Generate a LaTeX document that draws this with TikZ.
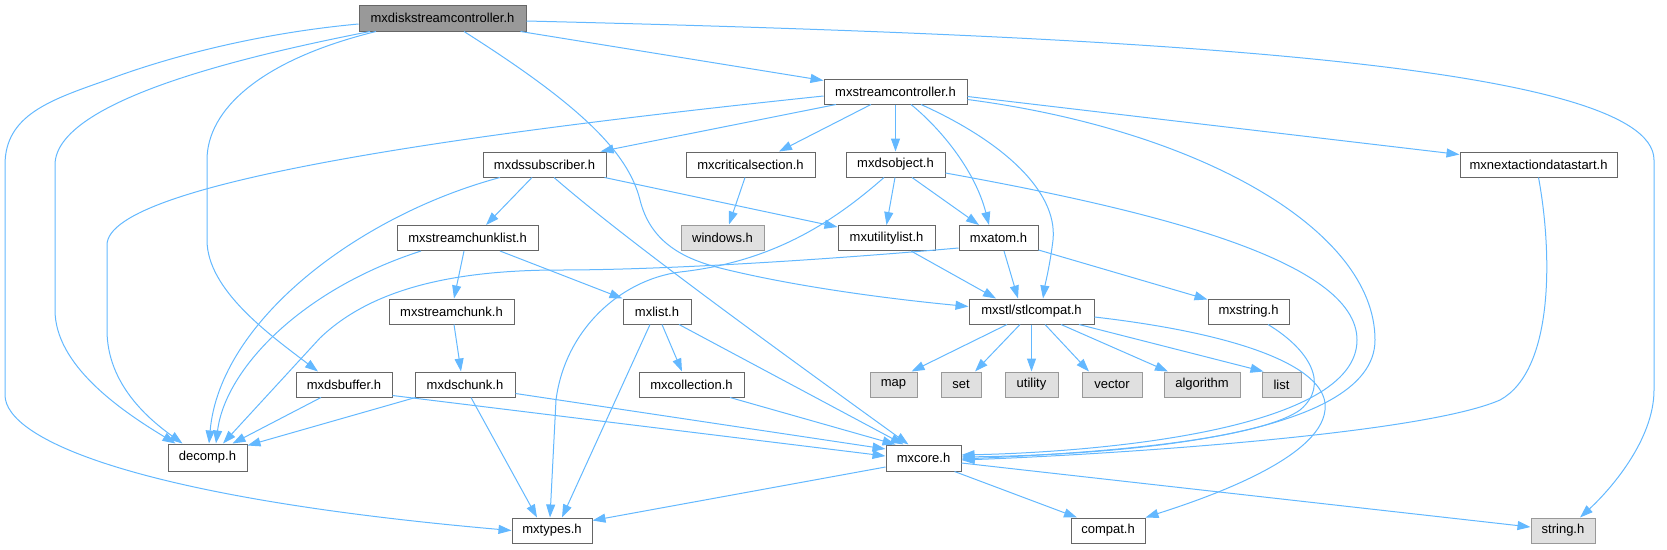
\documentclass[tikz,border=0pt]{standalone}
\usepackage{fontspec}
\setmainfont{Liberation Sans}
\usetikzlibrary{arrows.meta}
\definecolor{eblue}{HTML}{63B8FF}
\definecolor{bord}{HTML}{666666}
\definecolor{gbord}{HTML}{999999}
\definecolor{gfill}{HTML}{E0E0E0}
\definecolor{rfill}{HTML}{999999}
\begin{document}
\begin{tikzpicture}[x=1pt,y=-1pt,
  box/.style={draw=bord, line width=1pt, fill=white, inner sep=0pt, minimum height=25pt, font=\fontsize{13}{15}\selectfont, text=black},
  sysbox/.style={box, draw=gbord, fill=gfill},
  rootbox/.style={box, fill=rfill},
  edge/.style={draw=eblue, line width=1pt, -{Triangle[length=13pt,width=9pt]}}]
\useasboundingbox (0,0) rectangle (1667,549);
% nodes
\node[rootbox, minimum width=167pt, minimum height=26pt] (D) at (442.5,18) {mxdiskstreamcontroller.h};
\node[box, minimum width=143pt] (SC) at (895.5,91.5) {mxstreamcontroller.h};
\node[box, minimum width=123pt] (DS) at (544.5,164.5) {mxdssubscriber.h};
\node[box, minimum width=129pt] (CS) at (750.5,164.5) {mxcriticalsection.h};
\node[box, minimum width=99pt] (DSO) at (895.5,164.5) {mxdsobject.h};
\node[box, minimum width=157pt] (NXT) at (1538.5,164.5) {mxnextactiondatastart.h};
\node[box, minimum width=141pt] (SCL) at (467.5,238) {mxstreamchunklist.h};
\node[sysbox, minimum width=83pt] (WIN) at (722.5,237.5) {windows.h};
\node[box, minimum width=97pt] (UTL) at (886.5,238) {mxutilitylist.h};
\node[box, minimum width=79pt] (ATM) at (998.5,238) {mxatom.h};
\node[box, minimum width=125pt] (SCH) at (451.5,311.5) {mxstreamchunk.h};
\node[box, minimum width=68pt] (LST) at (657,311.5) {mxlist.h};
\node[box, minimum width=125pt] (STL) at (1031.5,311.5) {mxstl/stlcompat.h};
\node[box, minimum width=81pt] (STR) at (1248.5,311.5) {mxstring.h};
\node[box, minimum width=96pt] (BUF) at (344,384.5) {mxdsbuffer.h};
\node[box, minimum width=100pt] (DCH) at (465,384.5) {mxdschunk.h};
\node[box, minimum width=105pt] (COL) at (691.5,384.5) {mxcollection.h};
\node[sysbox, minimum width=47pt] (MAP) at (893.5,384.5) {map};
\node[sysbox, minimum width=40pt] (SET) at (961,384.5) {set};
\node[sysbox, minimum width=53pt] (UTI) at (1031.5,384.5) {utility};
\node[sysbox, minimum width=60pt] (VEC) at (1112,384.5) {vector};
\node[sysbox, minimum width=76pt] (ALG) at (1202,384.5) {algorithm};
\node[sysbox, minimum width=39pt] (LIS) at (1281.5,384.5) {list};
\node[box, minimum width=79pt, minimum height=27pt] (DEC) at (207.5,457.5) {decomp.h};
\node[box, minimum width=75pt, minimum height=26pt] (CORE) at (923.5,458) {mxcore.h};
\node[box, minimum width=80pt] (TYP) at (552,530.5) {mxtypes.h};
\node[box, minimum width=74pt] (CMP) at (1108,530.5) {compat.h};
\node[sysbox, minimum width=64pt] (SH) at (1563,530.5) {string.h};
% edges from mxdiskstreamcontroller.h
\draw[edge] ([yshift=-6pt]D.west) .. controls (250,34) and (160,60) .. (107,80) .. controls (50,100) and (5,115) .. (5,165) -- (5,395) .. controls (5,440) and (140,498) .. (TYP.west);
\draw[edge] ([xshift=-72.5pt]D.south) .. controls (250,55) and (55,100) .. (55,165) -- (55,310) .. controls (55,365) and (120,410) .. ([xshift=-32pt]DEC.north);
\draw[edge] ([xshift=-66.5pt]D.south) .. controls (260,60) and (207,110) .. (207,160) -- (207,240) .. controls (207,290) and (270,335) .. ([xshift=-26pt]BUF.north);
\draw[edge] ([xshift=21.5pt]D.south) .. controls (580,105) and (628,152) .. (640,200) .. controls (650,240) and (680,258) .. (720,268) .. controls (800,288) and (900,300) .. ([yshift=5pt]STL.west);
\draw[edge] ([xshift=-6pt]D.south east) -- ([yshift=-2pt]SC.north west);
\draw[edge] ([yshift=-3pt]D.east) .. controls (1100,35) and (1654,60) .. (1654,160) -- (1654,390) .. controls (1654,440) and (1610,490) .. ([xshift=17pt]SH.north);
% mxstreamcontroller.h
\draw[edge] ([yshift=-4.5pt]SC.west) .. controls (500,130) and (107,180) .. (107,245) -- (107,330) .. controls (107,385) and (150,420) .. ([xshift=-25pt]DEC.north);
\draw[edge] ([xshift=-59.5pt]SC.south) -- ([xshift=-6pt]DS.north east);
\draw[edge] ([xshift=-24.5pt]SC.south) -- ([xshift=28.5pt]CS.north);
\draw[edge] (SC.south) -- (DSO.north);
\draw[edge] ([xshift=15.5pt]SC.south) .. controls (940,128) and (975,170) .. ([xshift=-9.5pt]ATM.north);
\draw[edge] ([xshift=25.5pt]SC.south) .. controls (1000,140) and (1058,190) .. (1053,240) .. controls (1050,265) and (1045,285) .. ([xshift=11.5pt]STL.north);
\draw[edge] ([yshift=-5pt]SC.east) -- ([yshift=-3pt]NXT.north west);
\draw[edge] ([yshift=-8pt]SC.east) .. controls (1200,130) and (1375,230) .. (1375,340) .. controls (1375,440) and (1100,455) .. ([yshift=1pt]CORE.east);
% mxdssubscriber.h
\draw[edge] ([xshift=-44.5pt]DS.south) .. controls (360,215) and (220,320) .. ([xshift=1.5pt]DEC.north);
\draw[edge] ([xshift=-12.5pt]DS.south) -- ([xshift=18.5pt]SCL.north);
\draw[edge] ([xshift=9.5pt]DS.south) .. controls (620,235) and (750,330) .. ([xshift=-15pt]CORE.north);
\draw[edge] ([xshift=-2pt]DS.south east) -- ([yshift=-2pt]UTL.north west);
% mxcriticalsection.h
\draw[edge] ([xshift=-5.5pt]CS.south) -- ([xshift=6.5pt]WIN.north);
% mxdsobject.h
\draw[edge] ([xshift=-11.5pt]DSO.south) .. controls (830,225) and (770,262) .. (680,272) .. controls (620,280) and (565,330) .. (556,400) -- ([xshift=-2pt]TYP.north);
\draw[edge] ([xshift=-0.5pt]DSO.south) -- (UTL.north);
\draw[edge] ([xshift=16.5pt]DSO.south) -- ([xshift=-19.5pt]ATM.north);
\draw[edge] ([yshift=-8.5pt]DSO.east) .. controls (1150,210) and (1357,260) .. (1357,340) .. controls (1357,430) and (1100,452) .. ([yshift=3pt]CORE.east);
% mxstreamchunklist.h
\draw[edge] ([xshift=-46.5pt]SCL.south) .. controls (300,290) and (225,370) .. ([xshift=8.5pt]DEC.north);
\draw[edge] ([xshift=-3.5pt]SCL.south) -- ([xshift=2.5pt]SCH.north);
\draw[edge] ([xshift=32.5pt]SCL.south) -- (LST.north west);
% mxstreamchunk.h
\draw[edge] ([xshift=2.5pt]SCH.south) -- ([xshift=-4pt]DCH.north);
% mxdsbuffer.h
\draw[edge] ([xshift=-23pt]BUF.south) -- ([xshift=25pt]DEC.north);
\draw[edge] ([yshift=-11pt]BUF.east) -- ([yshift=2pt]CORE.west);
% mxdschunk.h
\draw[edge] ([xshift=1pt]DCH.south west) -- ([yshift=-2pt]DEC.north east);
\draw[edge] ([xshift=6pt]DCH.south) -- ([xshift=-15pt]TYP.north);
\draw[edge] ([yshift=-9pt]DCH.east) -- ([yshift=9pt]CORE.west);
% mxlist.h
\draw[edge] ([xshift=-7pt]LST.south) -- ([xshift=10pt]TYP.north);
\draw[edge] ([xshift=5pt]LST.south) -- ([xshift=-9.5pt]COL.north);
\draw[edge] ([xshift=22pt]LST.south) -- ([xshift=-20pt]CORE.north);
% mxcollection.h
\draw[edge] ([xshift=38.5pt]COL.south) -- ([xshift=-28pt]CORE.north);
% mxutilitylist.h
\draw[edge] ([xshift=24.5pt]UTL.south) -- ([xshift=-35.5pt]STL.north);
% mxatom.h
\draw[edge] ([xshift=5.5pt]ATM.south) -- ([xshift=-13.5pt]STL.north);
\draw[edge] ([yshift=-12pt]ATM.east) -- ([yshift=-1pt]STR.north west);
\draw[edge] ([yshift=-10pt]ATM.west) .. controls (800,262) and (650,270) .. (560,270) .. controls (450,270) and (370,290) .. (320,338) -- ([xshift=15.5pt]DEC.north);
% mxstl/stlcompat.h
\draw[edge] ([xshift=-24.5pt]STL.south) -- ([xshift=18pt]MAP.north);
\draw[edge] ([xshift=-11.5pt]STL.south) -- ([xshift=14pt]SET.north);
\draw[edge] (STL.south) -- (UTI.north);
\draw[edge] ([xshift=13.5pt]STL.south) -- ([xshift=-23pt]VEC.north);
\draw[edge] ([xshift=29.5pt]STL.south) -- ([xshift=-34pt]ALG.north);
\draw[edge] ([xshift=47.5pt]STL.south) -- ([xshift=2pt]LIS.north west);
\draw[edge] ([yshift=-5.5pt]STL.east) .. controls (1250,335) and (1330,370) .. (1325,410) .. controls (1320,460) and (1200,500) .. (CMP.north east);
% mxstring.h
\draw[edge] ([xshift=19.5pt]STR.south) .. controls (1310,350) and (1330,385) .. (1300,410) .. controls (1250,445) and (1050,455) .. ([yshift=-1pt]CORE.east);
% mxnextactiondatastart.h
\draw[edge] (NXT.south) .. controls (1552,250) and (1555,370) .. (1500,400) .. controls (1420,435) and (1100,455) .. ([yshift=-2pt]CORE.east);
% mxcore.h
\draw[edge] ([yshift=-9pt]CORE.west) -- ([yshift=10pt]TYP.east);
\draw[edge] ([xshift=31pt]CORE.south) -- ([xshift=-31pt]CMP.north);
\draw[edge] ([yshift=-5pt]CORE.east) -- ([yshift=3.5pt]SH.west);
\end{tikzpicture}
\end{document}
